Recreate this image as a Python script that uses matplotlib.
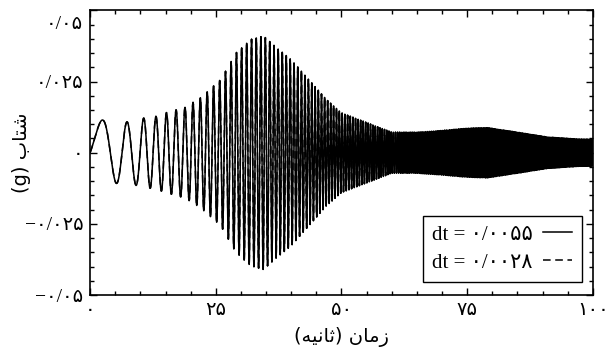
import numpy as np
import matplotlib
matplotlib.use('Agg')
import matplotlib.pyplot as plt
from matplotlib.ticker import FixedLocator, MultipleLocator
from matplotlib.transforms import ScaledTranslation

plt.rcParams['font.family'] = ['Liberation Serif', 'DejaVu Sans']

# envelope of the record (time in s, amplitude in g)
env_t = [0, 3, 6, 8, 11, 13, 15, 17, 19, 22, 26, 29, 32, 34.5, 37, 40,
         43.5, 47, 50, 55, 60, 65, 70, 75, 79, 85, 91, 97, 100]
env_a = [0.011, 0.0116, 0.0105, 0.011, 0.0123, 0.0127, 0.014, 0.015, 0.016,
         0.0194, 0.0257, 0.035, 0.0398, 0.041, 0.037, 0.0327, 0.0257, 0.0187,
         0.014, 0.0106, 0.0072, 0.0072, 0.0078, 0.0086, 0.0088, 0.0072, 0.0055,
         0.0048, 0.0047]
# instantaneous frequency (Hz) estimated from the spacing of the peaks
freq_t = [0, 3, 6, 9, 12, 15, 18, 21, 25, 30, 40, 60, 100]
freq_f = [0.07, 0.15, 0.24, 0.29, 0.42, 0.5, 0.56, 0.68, 0.82, 0.98, 1.3, 2.3, 4.2]

steps = [0.0055, 0.0028]
legend_labels = ['dt = ۰/۰۰۵۵', 'dt = ۰/۰۰۲۸']

x_ticks = [0, 25, 50, 75, 100]
x_ticklabels = ['۰', '۲۵', '۵۰', '۷۵', '۱۰۰']
y_ticks = [-0.05, -0.025, 0, 0.025, 0.05]
y_ticklabels = ['\u2212۰/۰۵', '\u2212۰/۰۲۵', '۰', '۰/۰۲۵', '۰/۰۵']

# Persian text given in visual order with presentation forms (no shaping in matplotlib)
xlabel = '(ﻪﻴﻧﺎﺛ) ﻥﺎﻣﺯ'
ylabel = '(g) ﺏﺎﺘﺷ'


def record(dt):
    t = np.arange(0, 100 + dt, dt)
    f = np.interp(t, freq_t, freq_f)
    phase = 2 * np.pi * np.concatenate([[0], np.cumsum((f[1:] + f[:-1]) / 2 * dt)])
    return t, np.interp(t, env_t, env_a) * np.sin(phase)


fig = plt.figure(figsize=(6.13, 3.56), dpi=100)
ax = fig.add_axes([0.147, 0.171, 0.82, 0.80])

t1, a1 = record(steps[0])
t2, a2 = record(steps[1])
ax.plot(t1, a1, color='black', lw=1.1, label=legend_labels[0])
ax.plot(t2, a2, color='black', lw=1.1, ls=(0, (5, 3)), label=legend_labels[1])

ax.set_xlim(0, 100)
ax.set_ylim(-0.05, 0.05)
ax.xaxis.set_major_locator(FixedLocator(x_ticks))
ax.yaxis.set_major_locator(FixedLocator(y_ticks))
ax.set_xticklabels(x_ticklabels, fontsize=14)
ax.set_yticklabels(y_ticklabels, fontsize=14)
ax.xaxis.set_minor_locator(MultipleLocator(5))
ax.yaxis.set_minor_locator(MultipleLocator(0.005))
ax.tick_params(which='both', direction='in', top=True, right=True, width=1)
ax.tick_params(which='major', length=5, pad=5)
ax.tick_params(which='minor', length=3)
for s in ax.spines.values():
    s.set_linewidth(1.2)

# top label sits a bit lower in the reference
top_lab = ax.get_yticklabels()[-1]
top_lab.set_transform(top_lab.get_transform() + ScaledTranslation(0, -0.12, fig.dpi_scale_trans))

ax.set_xlabel(xlabel, fontsize=14, family='DejaVu Sans')
ax.set_ylabel(ylabel, fontsize=14, family='DejaVu Sans')
ax.xaxis.set_label_coords(0.5, -0.112)
ax.yaxis.set_label_coords(-0.118, 0.5)

leg = ax.legend(loc='lower right', bbox_to_anchor=(0.978, 0.046), borderaxespad=0,
                markerfirst=False, fontsize=15, fancybox=False, edgecolor='black',
                framealpha=1, handlelength=1.4, handletextpad=0.5,
                borderpad=0.45, labelspacing=0.4)
leg.get_frame().set_linewidth(1)

fig.savefig('out.png', dpi=100)
